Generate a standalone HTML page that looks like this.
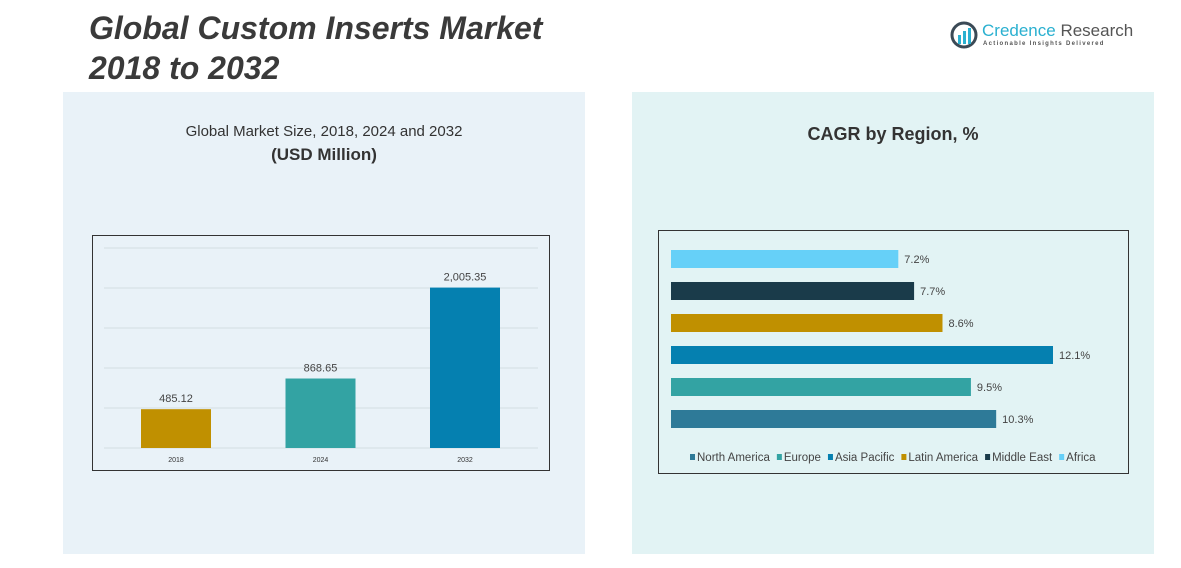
<!DOCTYPE html>
<html><head><meta charset="utf-8"><style>
body{margin:0;width:1181px;height:568px;background:#fff;position:relative;overflow:hidden;font-family:"Liberation Sans",sans-serif}
.t{position:absolute;color:#333}
</style></head><body>
<div class="t" style="left:89px;top:8px;font-size:32px;font-weight:bold;font-style:italic;line-height:40px;color:#3a3a3a">Global Custom Inserts Market<br>2018 to 2032</div>
<div style="position:absolute;left:950px;top:20px;width:190px;height:30px">
<svg width="30" height="30"><circle cx="14" cy="15" r="12" fill="none" stroke="#3b4a56" stroke-width="3"/><rect x="8" y="15" width="3" height="9" fill="#2ab0d0"/><rect x="13" y="11" width="3" height="13" fill="#2ab0d0"/><rect x="18" y="8" width="3" height="16" fill="#2ab0d0"/></svg>
<div style="position:absolute;left:32px;top:1px;font-size:17px;color:#2ab0d0;white-space:nowrap">Credence <span style="color:#555">Research</span></div>
<div style="position:absolute;left:33px;top:21px;font-size:6px;letter-spacing:1.3px;color:#555;white-space:nowrap;font-weight:bold">Actionable Insights Delivered</div>
</div>
<div style="position:absolute;left:63px;top:92px;width:522px;height:462px;background:#e9f2f8"></div>
<div style="position:absolute;left:632px;top:92px;width:522px;height:462px;background:#e2f3f4"></div>
<div class="t" style="left:63px;width:522px;text-align:center;top:123px;font-size:15px">Global Market Size, 2018, 2024 and 2032</div>
<div class="t" style="left:63px;width:522px;text-align:center;top:145px;font-size:17px;font-weight:bold">(USD Million)</div>
<div class="t" style="left:632px;width:522px;text-align:center;top:124px;font-size:18px;font-weight:bold">CAGR by Region, %</div>
<svg id="c" width="1181" height="568" style="position:absolute;left:0;top:0"></svg>
<script>
const years=["2018","2024","2032"];
const sizes=[485.12,868.65,2005.35];
const sizeLabels=["485.12","868.65","2,005.35"];
const yearColors=["#c09000","#33a3a3","#0580b0"];
const regions=["North America","Europe","Asia Pacific","Latin America","Middle East","Africa"];
const cagr=[10.3,9.5,12.1,8.6,7.7,7.2];
const regionColors=["#2e7a98","#33a3a3","#0580b0","#c09000","#1a3b4a","#66d0f8"];
const gridVals=[0,500,1000,1500,2000,2500];
const NS="http://www.w3.org/2000/svg",svg=document.getElementById('c');
function mk(t,a,txt){const e=document.createElementNS(NS,t);for(const k in a)e.setAttribute(k,a[k]);if(txt!==undefined)e.textContent=txt;svg.appendChild(e);return e;}
let e=mk('rect',{x:92.5,y:235.5,width:457,height:235,fill:'none',stroke:'#333','stroke-width':1});

const yS=v=>448-v*0.08;
gridVals.forEach(v=>{const g=mk('line',{x1:104,x2:538,y1:yS(v),y2:yS(v),stroke:'#d3dde2'});
});
const xC=i=>176+i*144.5;
years.forEach((y,i)=>{
const b=mk('rect',{x:xC(i)-35,y:yS(sizes[i]),width:70,height:sizes[i]*0.08,fill:yearColors[i]});

const l=mk('text',{x:xC(i),y:yS(sizes[i])-7,'text-anchor':'middle','font-size':11,fill:'#444'},sizeLabels[i]);

const t=mk('text',{x:xC(i),y:462,'text-anchor':'middle','font-size':7,fill:'#333'},y);

});
e=mk('rect',{x:658.5,y:230.5,width:470,height:243,fill:'none',stroke:'#333','stroke-width':1});

const xR=v=>v*31.57;
const yR=i=>419-i*32;
regions.forEach((r,i)=>{
const b=mk('rect',{x:671,y:yR(i)-9,width:xR(cagr[i]),height:18,fill:regionColors[i]});

const l=mk('text',{x:671+xR(cagr[i])+6,y:yR(i)+4,'font-size':11,fill:'#444'},cagr[i].toFixed(1)+'%');

});
let lx=690;
regions.forEach((r,i)=>{
const s=mk('rect',{x:lx,y:454,width:5,height:6,fill:regionColors[i]});

const t=mk('text',{x:lx+7,y:461,'font-size':11.5,fill:'#444'},r);

lx+=t.getComputedTextLength()+14;
});
</script>
</body></html>
